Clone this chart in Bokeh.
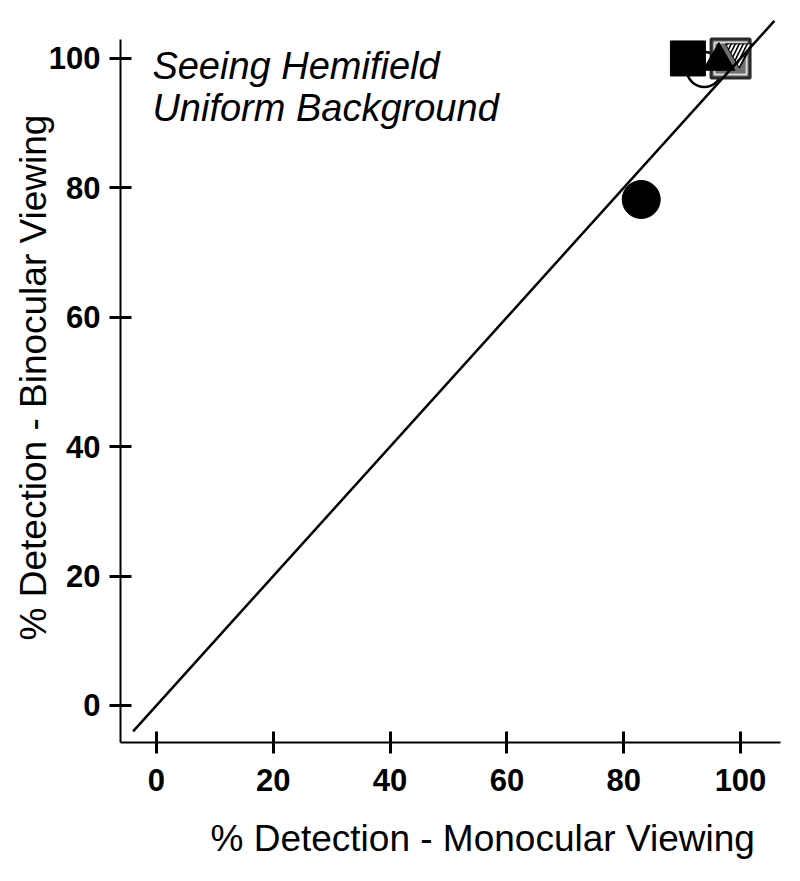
from bokeh.plotting import figure
from bokeh.models import Range1d, FixedTicker, Label, Title
from bokeh.embed import file_html
from bokeh.resources import INLINE

# data (percent detection)
ticks = [0, 20, 40, 60, 80, 100]
filled_circle_x = [83.0]
filled_circle_y = [78.2]
open_circle_x = [93.8]
open_circle_y = [98.3]
filled_square_x = [91.0]
filled_square_y = [100.0]
grey_square_x = [98.3]
grey_square_y = [100.0]
filled_triangle_x = [96.3]
filled_triangle_y = [99.6]
hatched_x = [99.8]
hatched_y = [101.0]
unity_x = [-4, 105.8]
unity_y = [-4, 105.8]

FONT = "Liberation Sans"

p = figure(width=798, height=881, output_backend="svg", toolbar_location=None,
           x_range=Range1d(-6.16, 106.85), y_range=Range1d(-5.72, 107.1),
           min_border_left=120, min_border_right=18, min_border_top=12, min_border_bottom=139)
p.outline_line_color = None
p.grid.visible = False
p.background_fill_color = "white"

for ax in (p.xaxis[0], p.yaxis[0]):
    ax.ticker = FixedTicker(ticks=ticks)
    ax.axis_line_width = 2
    ax.axis_line_color = "black"
    ax.major_tick_line_width = 3
    ax.major_tick_line_color = "black"
    ax.major_tick_in = 11
    ax.major_tick_out = 11
    ax.minor_tick_line_color = None
    ax.major_label_text_font = FONT
    ax.major_label_text_font_style = "bold"
    ax.major_label_text_font_size = "31px"
    ax.major_label_text_color = "black"
    ax.axis_label_text_font = FONT
    ax.axis_label_text_font_style = "normal"
    ax.axis_label_text_font_size = "37px"
    ax.axis_label_text_color = "black"

p.xaxis.bounds = (-6.16, 106.85)
p.yaxis.bounds = (-5.72, 103.0)
p.yaxis.axis_label = "% Detection - Binocular Viewing"
p.xaxis.major_label_standoff = 15
p.yaxis.major_label_standoff = 9
p.yaxis.axis_label_standoff = -8

# x-axis title (slightly right of the frame centre, as in the original)
p.add_layout(Title(text="% Detection - Monocular Viewing", align="left", offset=90,
                   standoff=44, text_font=FONT, text_font_size="37px",
                   text_font_style="normal", text_color="black"), "below")

# markers
p.scatter(open_circle_x, open_circle_y, marker="circle", size=35,
          fill_color="white", line_color="black", line_width=2.5)
p.scatter(filled_square_x, filled_square_y, marker="square", size=35,
          fill_color="black", line_color="black", line_width=1)
p.scatter(grey_square_x, grey_square_y, marker="square", size=39,
          fill_color="#6e6e6e", line_color="#2a2a2a", line_width=3)
p.scatter(grey_square_x, grey_square_y, marker="square", size=32,
          fill_color=None, line_color="#d8d8d8", line_width=2)
p.scatter(filled_triangle_x, filled_triangle_y, marker="triangle", size=32,
          fill_color="black", line_color="black", line_width=1)
p.scatter(hatched_x, hatched_y, marker="inverted_triangle", size=28,
          fill_color="black", line_color="black", line_width=1,
          hatch_pattern="/", hatch_color="white", hatch_weight=2, hatch_scale=8)
p.scatter(filled_circle_x, filled_circle_y, marker="circle", size=38,
          fill_color="black", line_color="black", line_width=1)

p.line(unity_x, unity_y, line_color="black", line_width=2.5)

for txt, yv in (("Seeing Hemifield", 98.9), ("Uniform Background", 92.4)):
    p.add_layout(Label(x=-0.7, y=yv, text=txt, text_font=FONT, text_font_style="italic",
                       text_font_size="38px", text_color="black", text_baseline="alphabetic"))

open("out.html", "w").write(file_html(p, INLINE))
